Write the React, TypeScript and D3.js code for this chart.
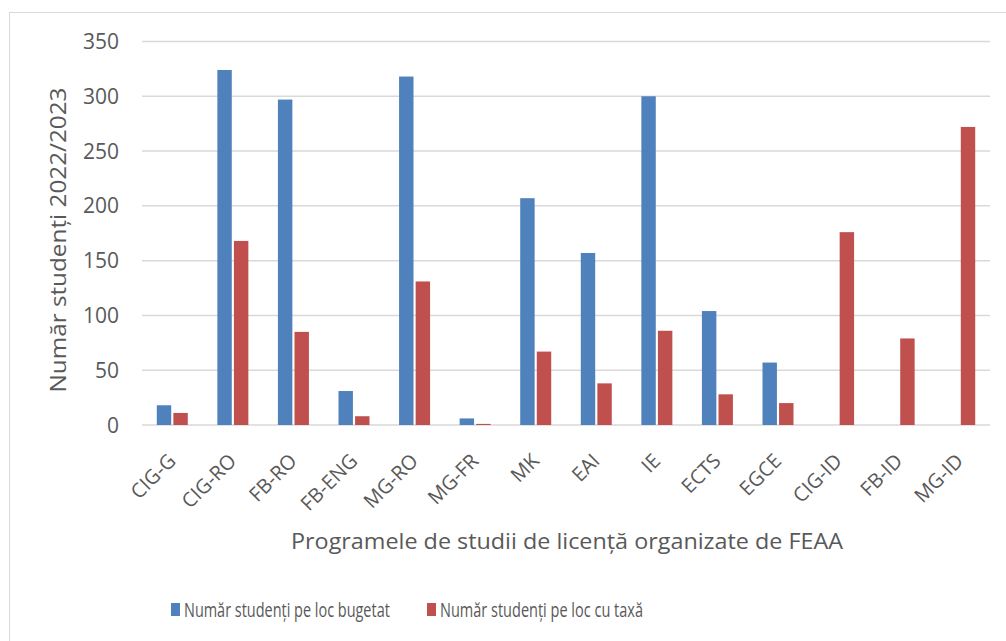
import React, { useLayoutEffect, useRef, useState } from 'react';
import * as d3 from 'd3';

const categories = [
    'CIG-G', 'CIG-RO', 'FB-RO', 'FB-ENG', 'MG-RO', 'MG-FR', 'MK',
    'EAI', 'IE', 'ECTS', 'EGCE', 'CIG-ID', 'FB-ID', 'MG-ID'
];

const bugetat = [18, 324, 297, 31, 318, 6, 207, 157, 300, 104, 57, 0, 0, 0];
const taxa = [11, 168, 85, 8, 131, 1, 67, 38, 86, 28, 20, 176, 79, 272];

const yTicks = [0, 50, 100, 150, 200, 250, 300, 350];

const seriesNames = ['Număr studenți pe loc bugetat', 'Număr studenți pe loc cu taxă'];
const seriesColors = ['#4F81BD', '#C0504D'];

const width = 1006;
const height = 641;
const margin = { left: 142, right: 16, top: 41.5, bottom: 216 };
const font = '"Open Sans", sans-serif';
const textColor = '#595959';

// text squeezed horizontally to a given width (the original font is narrower)
function FitText({ x, y, target, children, fontSize }) {
    const ref = useRef(null);
    const [k, setK] = useState(1);
    useLayoutEffect(() => {
        if (ref.current) {
            const len = ref.current.getComputedTextLength();
            if (len > 0) setK(target / len);
        }
    }, [target, children]);
    return (
        <text ref={ref} transform={`translate(${x}, ${y}) scale(${k}, 1)`} fontFamily={font}
            fontSize={fontSize} fill={textColor}>{children}</text>
    );
}

export default function App() {
    const drawWidth = width - margin.left - margin.right;
    const drawHeight = height - margin.top - margin.bottom;

    const xScale = d3.scaleBand().domain(categories).range([0, drawWidth]);
    const inner = d3.scaleBand().domain(['0', '1']).range([-15.5, 15.5]).paddingInner(0.13);
    const yScale = d3.scaleLinear().domain([0, 350]).range([drawHeight, 0]);

    const series = [bugetat, taxa];

    return (
        <svg width={width} height={height} style={{ position: 'absolute', left: 0, top: 0, background: '#fff' }}>
            <rect x={9.5} y={12.5} width={1010} height={640} fill="#fff" stroke="#d9d9d9" />
            <g transform={`translate(${margin.left}, ${margin.top})`}>
                {yTicks.map((t) => (
                    <g key={t}>
                        <line x1={0} x2={drawWidth} y1={yScale(t)} y2={yScale(t)} stroke="#d9d9d9" strokeWidth={1.5} />
                        <text x={-23} y={yScale(t)} dy="0.36em" textAnchor="end" fontFamily={font} fontSize={21} fill={textColor}>{t}</text>
                    </g>
                ))}
                {series.map((values, s) => values.map((v, i) => v > 0 && (
                    <rect key={`${s}-${i}`}
                        x={(xScale(categories[i]) as number) + xScale.bandwidth() / 2 + (inner(String(s)) as number)}
                        y={yScale(v)}
                        width={inner.bandwidth()}
                        height={drawHeight - yScale(v)}
                        fill={seriesColors[s]} />
                )))}
                {categories.map((c) => {
                    // rotated labels, top-right corner just under the category
                    const cx = (xScale(c) as number) + xScale.bandwidth() / 2 - 5.5;
                    const cy = drawHeight + 27;
                    return (
                        <text key={c} transform={`translate(${cx}, ${cy}) rotate(-45)`} textAnchor="end"
                            dy="0.72em" fontFamily={font} fontSize={20} fill={textColor}>{c}</text>
                    );
                })}
            </g>
            <text transform="translate(66, 240) rotate(-90)" textAnchor="middle" fontFamily={font} fontSize={21}
                fill={textColor} textLength={305} lengthAdjust="spacingAndGlyphs">Număr studenți 2022/2023</text>
            <text x={567} y={549} textAnchor="middle" fontFamily={font} fontSize={21} fill={textColor}
                textLength={552} lengthAdjust="spacingAndGlyphs">Programele de studii de licență organizate de FEAA</text>
            {seriesNames.map((n, i) => {
                const lx = [171, 427][i];
                return (
                    <g key={n}>
                        <rect x={lx} y={603} width={9} height={13} fill={seriesColors[i]} />
                        <FitText x={lx + 13} y={617} target={[206, 203][i]} fontSize={20}>{n}</FitText>
                    </g>
                );
            })}
        </svg>
    );
}
